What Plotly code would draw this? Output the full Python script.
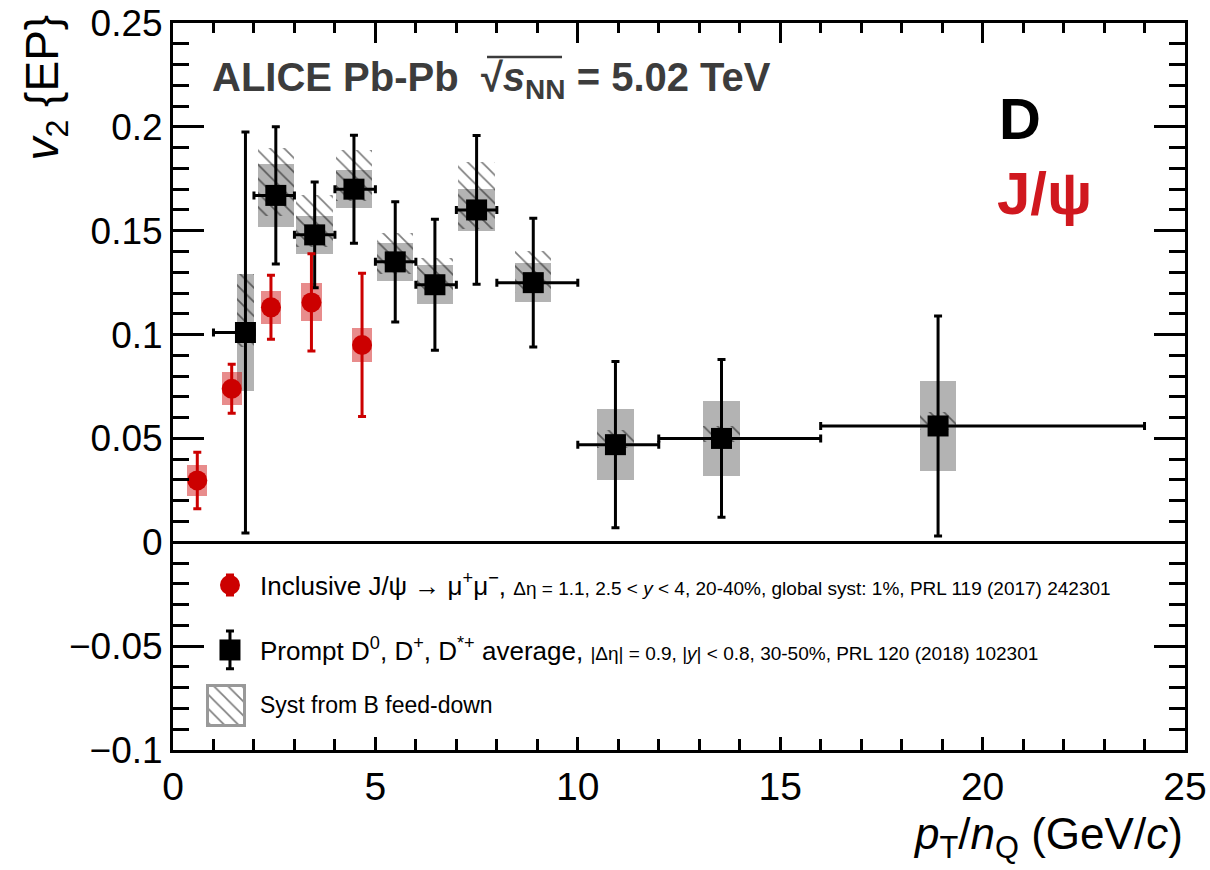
import plotly.graph_objects as go

# ---- Prompt D-meson average v2 vs pT/nQ ----
d_pt = [1.79, 2.54, 3.50, 4.47, 5.49, 6.47, 7.50, 8.90, 10.93, 13.55, 18.90]
d_bin_lo = [1, 2, 3, 4, 5, 6, 7, 8, 10, 12, 16]
d_bin_hi = [2, 3, 4, 5, 6, 7, 8, 10, 12, 16, 24]
d_v2 = [0.101, 0.167, 0.148, 0.170, 0.135, 0.124, 0.160, 0.125, 0.047, 0.050, 0.056]
d_stat = [0.0965, 0.033, 0.0254, 0.026, 0.029, 0.0315, 0.0358, 0.031, 0.040, 0.038, 0.053]
d_syst = [0.028, 0.015, 0.009, 0.0093, 0.009, 0.0093, 0.010, 0.0093, 0.017, 0.018, 0.0215]
# B feed-down systematic (upward / downward)
d_fd_up = [0.028, 0.023, 0.019, 0.019, 0.014, 0.013, 0.023, 0.015, 0.007, 0.006, 0.0067]
d_fd_down = [0.007, 0.010, 0.006, 0.0055, 0.006, 0.004, 0.009, 0.005, 0.0015, 0.0015, 0.002]

# ---- Inclusive J/psi v2 vs pT/nQ ----
jpsi_pt = [0.60, 1.45, 2.42, 3.42, 4.67]
jpsi_v2 = [0.0298, 0.0739, 0.1131, 0.1155, 0.095]
jpsi_stat = [0.0136, 0.0118, 0.0154, 0.0234, 0.0345]
jpsi_syst = [0.0075, 0.0079, 0.0079, 0.0092, 0.008]

x_tick_vals = [0, 5, 10, 15, 20, 25]
x_tick_text = ["0", "5", "10", "15", "20", "25"]
y_tick_vals = [-0.1, -0.05, 0, 0.05, 0.1, 0.15, 0.2, 0.25]
y_tick_text = ["\u22120.1", "\u22120.05", "0", "0.05", "0.1", "0.15", "0.2", "0.25"]

FONT = "Liberation Sans, Arial, Helvetica, sans-serif"
RED = "#cc0000"
RED_BOX = "rgba(204,0,0,0.45)"
GRAY_BOX = "#b3b3b3"
HATCH = dict(shape="\\", fgcolor="#000000", size=10, solidity=0.17, fillmode="overlay")

fig = go.Figure()

# D-meson systematic boxes
d_box_w = [min(0.9, 2 * (hi - x)) for x, hi in zip(d_pt, d_bin_hi)]
fig.add_trace(go.Bar(
    x=d_pt, y=[2 * s for s in d_syst], base=[v - s for v, s in zip(d_v2, d_syst)],
    width=d_box_w, marker=dict(color=GRAY_BOX, line=dict(width=0)),
    showlegend=False, hoverinfo="skip"))

# B feed-down hatched boxes
fig.add_trace(go.Bar(
    x=d_pt, y=[u + d for u, d in zip(d_fd_up, d_fd_down)],
    base=[v - d for v, d in zip(d_v2, d_fd_down)], width=d_box_w,
    marker=dict(color="rgba(0,0,0,0)", line=dict(width=0),
                pattern=dict(HATCH, bgcolor="rgba(0,0,0,0)")),
    showlegend=False, hoverinfo="skip"))

# D-meson points with stat errors and pT bin widths
fig.add_trace(go.Scatter(
    x=d_pt, y=d_v2, mode="markers",
    marker=dict(symbol="square", size=21, color="black"),
    error_y=dict(type="data", array=d_stat, color="black", thickness=3, width=4),
    error_x=dict(type="data", array=[hi - x for x, hi in zip(d_pt, d_bin_hi)],
                 arrayminus=[x - lo for x, lo in zip(d_pt, d_bin_lo)],
                 color="black", thickness=3, width=4),
    showlegend=False))

# J/psi systematic boxes
fig.add_trace(go.Bar(
    x=jpsi_pt, y=[2 * s for s in jpsi_syst], base=[v - s for v, s in zip(jpsi_v2, jpsi_syst)],
    width=0.5, marker=dict(color=RED_BOX, line=dict(width=0)),
    showlegend=False, hoverinfo="skip"))

# J/psi points
fig.add_trace(go.Scatter(
    x=jpsi_pt, y=jpsi_v2, mode="markers",
    marker=dict(symbol="circle", size=20, color=RED),
    error_y=dict(type="data", array=jpsi_stat, color=RED, thickness=3, width=4),
    showlegend=False))

# top / right frame axes
fig.add_trace(go.Scatter(x=[None], y=[None], xaxis="x2", yaxis="y2", showlegend=False))

# legend keys drawn on a unit overlay axis
fig.add_trace(go.Scatter(
    x=[0.0563], y=[0.227], xaxis="x3", yaxis="y3", mode="markers",
    marker=dict(symbol="circle", size=20, color=RED),
    error_y=dict(type="data", array=[0.0138], color=RED, thickness=3, width=4),
    showlegend=False, hoverinfo="skip"))
fig.add_trace(go.Scatter(
    x=[0.0563], y=[0.1376], xaxis="x3", yaxis="y3", mode="markers",
    marker=dict(symbol="square", size=21, color="black"),
    error_y=dict(type="data", array=[0.026], color="black", thickness=3, width=4),
    showlegend=False, hoverinfo="skip"))
fig.add_trace(go.Bar(
    x=[0.0529], y=[0.055], base=[0.033], width=[0.0365], xaxis="x3", yaxis="y3",
    marker=dict(color="white", line=dict(width=3, color="#999999"),
                pattern=dict(HATCH, bgcolor="white")),
    showlegend=False, hoverinfo="skip"))

axis_common = dict(showline=True, linecolor="black", linewidth=3, ticks="inside",
                   tickcolor="black", tickwidth=3, showgrid=False, zeroline=False,
                   automargin=False)

fig.update_layout(
    width=1210, height=870,
    margin=dict(l=173, r=25, t=23, b=120, autoexpand=False),
    paper_bgcolor="white", plot_bgcolor="white",
    barmode="overlay", bargap=0,
    font=dict(family=FONT, color="black"),
    xaxis=dict(range=[0, 25], tickvals=x_tick_vals, ticktext=x_tick_text, ticklen=13,
               minor=dict(dtick=1, ticklen=11, tickcolor="black", tickwidth=3, ticks="inside"),
               tickfont=dict(size=39, family=FONT), **axis_common),
    xaxis2=dict(range=[0, 25], overlaying="x", side="top", anchor="y2", tickvals=x_tick_vals,
                showticklabels=False, ticklen=20,
                minor=dict(dtick=1, ticklen=10, tickcolor="black", tickwidth=3, ticks="inside"),
                **axis_common),
    yaxis=dict(range=[-0.1, 0.25], tickvals=y_tick_vals, ticktext=y_tick_text, ticklen=31,
               minor=dict(dtick=0.01, ticklen=16, tickcolor="black", tickwidth=3, ticks="inside"),
               tickfont=dict(size=37, family=FONT),
               **{**axis_common, "zeroline": True, "zerolinecolor": "black", "zerolinewidth": 3}),
    yaxis2=dict(range=[-0.1, 0.25], overlaying="y", side="right", anchor="x2", tickvals=y_tick_vals,
                showticklabels=False, ticklen=31,
                minor=dict(dtick=0.01, ticklen=16, tickcolor="black", tickwidth=3, ticks="inside"),
                **axis_common),
    xaxis3=dict(range=[0, 1], overlaying="x", visible=False, anchor="y3"),
    yaxis3=dict(range=[0, 1], overlaying="y", visible=False, anchor="x3"),
)

annotations = [
    dict(text="<b>ALICE Pb-Pb  \u221a<i>s</i><sub>NN</sub> = 5.02 TeV</b>",
         x=0.0366, y=0.9216, xanchor="left", yanchor="middle",
         font=dict(size=40, color="#3c3c3c", family=FONT)),
    dict(text="<b>D</b>", x=0.837, y=0.869, xanchor="center", yanchor="middle",
         font=dict(size=58, color="black", family=FONT)),
    dict(text="<b>J/\u03c8</b>", x=0.861, y=0.766, xanchor="center", yanchor="middle",
         font=dict(size=60, color="#d0181f", family=FONT)),
    dict(text="Inclusive J/\u03c8 \u2192 \u03bc<sup>+</sup>\u03bc<sup>\u2212</sup>, "
              "<span style='font-size:19px'>\u0394\u03b7 = 1.1, 2.5 &lt; <i>y</i> &lt; 4, 20-40%, "
              "global syst: 1%, PRL 119 (2017) 242301</span>",
         x=0.084, y=0.227, xanchor="left", yanchor="middle",
         font=dict(size=26, color="black", family=FONT)),
    dict(text="Prompt D<sup>0</sup>, D<sup>+</sup>, D<sup>*+</sup> average, "
              "<span style='font-size:19px'>|\u0394\u03b7| = 0.9, |<i>y</i>| &lt; 0.8, 30-50%, "
              "PRL 120 (2018) 102301</span>",
         x=0.084, y=0.1376, xanchor="left", yanchor="middle",
         font=dict(size=26, color="black", family=FONT)),
    dict(text="Syst from B feed-down", x=0.084, y=0.0619, xanchor="left", yanchor="middle",
         font=dict(size=23, color="black", family=FONT)),
    dict(text="<i>p</i><sub>T</sub>/<i>n</i><sub>Q</sub> (GeV/<i>c</i>)",
         x=1.0, y=-0.119, xanchor="right", yanchor="middle",
         font=dict(size=44, color="black", family=FONT)),
    dict(text="<i>v</i><sub>2</sub> {EP}", textangle=-90,
         x=-0.126, y=1.015, xanchor="center", yanchor="top",
         font=dict(size=46, color="black", family=FONT)),
]
for a in annotations:
    a.update(xref="paper", yref="paper", showarrow=False)
fig.update_layout(annotations=annotations)

# radical overline over s_NN
fig.add_shape(type="line", xref="paper", yref="paper", x0=0.3103, x1=0.3844, y0=0.9532, y1=0.9532,
              line=dict(color="#3c3c3c", width=2.5))

fig.write_html("out.html")
